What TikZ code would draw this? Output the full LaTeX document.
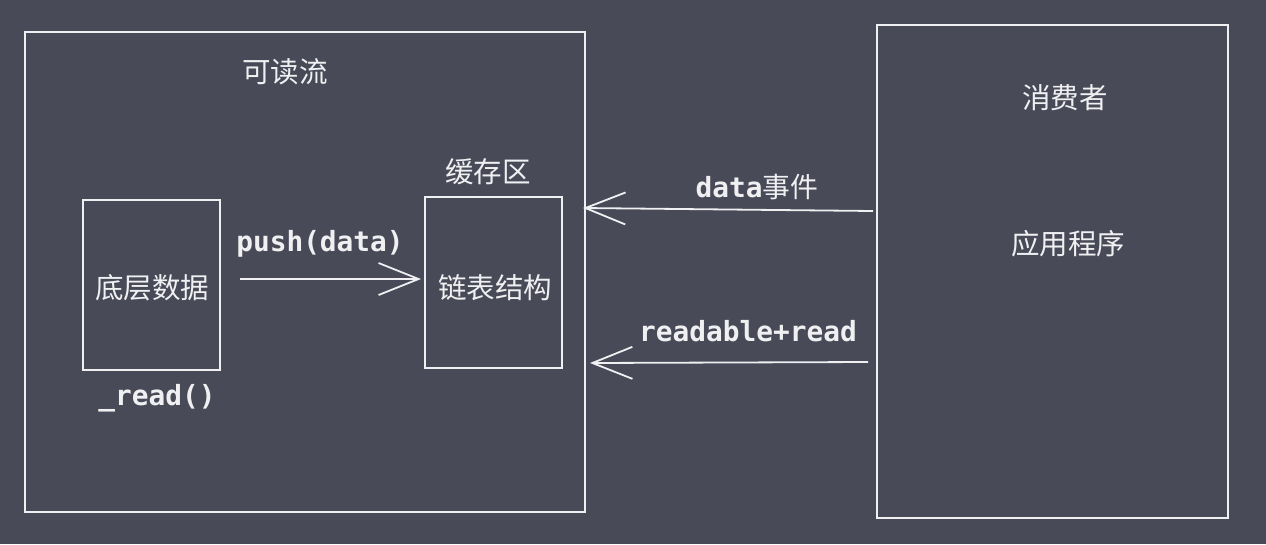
\documentclass[tikz,border=0pt]{standalone}
\usepackage{fontspec}
\newfontfamily\cjk{Noto Sans CJK SC}
\newfontfamily\monof{DejaVu Sans Mono}
\usetikzlibrary{arrows.meta}
\definecolor{bg}{RGB}{72,74,88}
\definecolor{ink}{RGB}{240,240,242}
\begin{document}
\begin{tikzpicture}[x=1pt,y=-1pt,
  box/.style={draw=ink,line width=1.8pt},
  cjklabel/.style={text=ink,font=\cjk\fontsize{28.5}{32}\selectfont,inner sep=0pt},
  monolabel/.style={text=ink,font=\monof\bfseries\fontsize{27.8}{32}\selectfont,inner sep=0pt},
  conn/.style={draw=ink,line width=1.8pt,-{Straight Barb[length=40pt,width=32pt,line width=1.8pt]}}]
\fill[bg] (0,0) rectangle (1266,544);
\useasboundingbox (0,0) rectangle (1266,544);
% outer readable stream box
\node[box,minimum width=560pt,minimum height=480pt,inner sep=0pt] (stream) at (305,272) {};
\node[cjklabel] (streamlbl) at (285,72) {可读流};
% underlying data box
\node[box,minimum width=137pt,minimum height=170pt,inner sep=0pt] (src) at (151.5,285) {};
\node[cjklabel] (srclbl) at (152,288) {底层数据};
\node[monolabel] (readfn) at (157,398) {\_read()};
% buffer box
\node[box,minimum width=137pt,minimum height=171pt,inner sep=0pt] (buf) at (493.5,282.5) {};
\node[cjklabel] (buflbl) at (495,288) {链表结构};
\node[cjklabel] (buftitle) at (488,172) {缓存区};
% consumer box
\node[box,minimum width=351pt,minimum height=493pt,inner sep=0pt] (cons) at (1052.5,271.5) {};
\node[cjklabel] (conslbl) at (1065,98) {消费者};
\node[cjklabel] (app) at (1068,244) {应用程序};
% connectors
\coordinate (pushs) at (240,279);
\coordinate (pushe) at (421,279);
\draw[conn] (pushs) -- (pushe);
\node[monolabel] (pushlbl) at (320,244) {push(data)};
\coordinate (ds) at (873,211);
\coordinate (de) at (583,208);
\draw[conn] (ds) -- (de);
\node[monolabel] (datalbl) at (757,187) {data{\cjk\mdseries 事件}};
\coordinate (rs) at (868,362);
\coordinate (re) at (590,363);
\draw[conn] (rs) -- (re);
\node[monolabel] (readlbl) at (748,331) {readable+read};
\end{tikzpicture}
\end{document}
